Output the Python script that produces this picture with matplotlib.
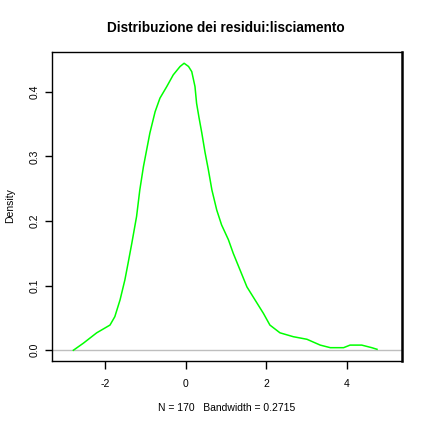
import matplotlib
matplotlib.use("Agg")
import matplotlib.pyplot as plt

# Kernel density estimate of residuals
x_vals = [-2.79, -2.54, -2.21, -1.88, -1.76, -1.63, -1.51, -1.43, -1.34, -1.22,
          -1.14, -1.05, -0.97, -0.89, -0.76, -0.64, -0.47, -0.31, -0.14, -0.04,
          0.07, 0.15, 0.23, 0.27, 0.33, 0.40, 0.48, 0.56, 0.65, 0.77, 0.89,
          1.06, 1.18, 1.35, 1.52, 1.72, 1.93, 2.09, 2.34, 2.67, 3.01,
          3.34, 3.59, 3.92, 4.08, 4.37, 4.62, 4.75]
density = [0.000, 0.011, 0.027, 0.039, 0.052, 0.078, 0.109, 0.135, 0.165, 0.207,
           0.248, 0.284, 0.310, 0.336, 0.369, 0.390, 0.408, 0.426, 0.439, 0.444,
           0.439, 0.431, 0.408, 0.382, 0.360, 0.336, 0.306, 0.280, 0.248, 0.217, 0.194,
           0.171, 0.150, 0.124, 0.098, 0.078, 0.057, 0.039, 0.027, 0.021, 0.017,
           0.008, 0.004, 0.004, 0.008, 0.008, 0.004, 0.0015]

x_ticks = [-2, 0, 2, 4]
y_ticks = [0.0, 0.1, 0.2, 0.3, 0.4]
y_tick_labels = ["0.0", "0.1", "0.2", "0.3", "0.4"]

title = "Distribuzione dei residui:lisciamento"
xlabel = "N = 170   Bandwidth = 0.2715"
ylabel = "Density"

plt.rcParams['font.family'] = ['Liberation Sans', 'DejaVu Sans']

W = H = 429
fig = plt.figure(figsize=(W / 100, H / 100), dpi=100)
ax = fig.add_axes([52 / W, 1 - 361 / H, (402 - 52) / W, (361 - 52) / H])

ax.axhline(0, color="#bebebe", lw=1.0, zorder=1)
ax.plot(x_vals, density, color="#00ff00", lw=1.1, zorder=2)

ax.set_xlim(-3.32, 5.37)
ax.set_ylim(-0.0166, 0.4614)

ax.set_xticks(x_ticks)
ax.set_xticklabels([str(v) for v in x_ticks])
ax.set_yticks(y_ticks)
ax.set_yticklabels(y_tick_labels, rotation=90, va="center")

ax.tick_params(axis="x", direction="out", length=6, width=1, labelsize=7.5, pad=7)
ax.tick_params(axis="y", direction="out", length=5, width=1, labelsize=7.5, pad=4)

for s in ax.spines.values():
    s.set_linewidth(1.0)
    s.set_color("black")
ax.spines["right"].set_linewidth(1.8)

fig.text(226 / W, 1 - 28 / H, title, ha="center", va="center",
         fontsize=9.8, fontweight="bold")
fig.text(227 / W, 1 - 408 / H, xlabel, ha="center", va="center", fontsize=7.5)
fig.text(10 / W, 1 - 206 / H, ylabel, ha="center", va="center",
         rotation=90, fontsize=7.5)

fig.savefig("out.png", dpi=100, facecolor="white")
